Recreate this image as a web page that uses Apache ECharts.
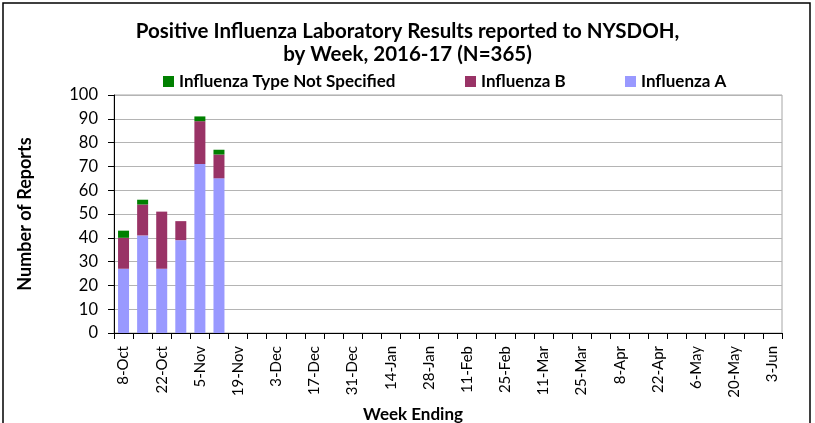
<!DOCTYPE html>
<html><head><meta charset="utf-8">
<script src="https://cdn.jsdelivr.net/npm/echarts@6/dist/echarts.min.js"></script>
<style>html,body{margin:0;padding:0;background:#fff;}#c{width:815px;height:423px;}</style>
</head><body><div id="c"></div>
<script>
const weeks = ['8-Oct','15-Oct','22-Oct','29-Oct','5-Nov','12-Nov','19-Nov','26-Nov','3-Dec','10-Dec','17-Dec','24-Dec','31-Dec','7-Jan','14-Jan','21-Jan','28-Jan','4-Feb','11-Feb','18-Feb','25-Feb','4-Mar','11-Mar','18-Mar','25-Mar','1-Apr','8-Apr','15-Apr','22-Apr','29-Apr','6-May','13-May','20-May','27-May','3-Jun'];
const fluA = [27,41,27,39,71,65];
const fluB = [13,13,24,8,18,10];
const fluNS = [3,2,0,0,2,2];
const seriesNames = ['Influenza Type Not Specified','Influenza B','Influenza A'];
const titleText = 'Positive Influenza Laboratory Results reported to NYSDOH,\nby Week, 2016-17 (N=365)';

const chart = echarts.init(document.getElementById('c'));
const font = 'Lato, "Open Sans", sans-serif';
const legendText = {fontFamily:font,fontWeight:'bold',fontSize:17,color:'#000'};
function lg(name,left){return {top:68,left:left,itemWidth:11,itemHeight:11,itemGap:0,icon:'rect',data:[name],textStyle:legendText,selectedMode:false};}
chart.setOption({
  animation:false,
  graphic:[{type:'rect',shape:{x:3,y:3,width:807,height:440},style:{fill:'none',stroke:'#000',lineWidth:1.5},silent:true}],
  title:{text:titleText,left:'center',top:15,textStyle:{fontFamily:font,fontWeight:'bold',fontSize:20.5,lineHeight:23,color:'#000'}},
  legend:[lg(seriesNames[0],158),lg(seriesNames[1],460),lg(seriesNames[2],620)],
  grid:{left:114,right:33,top:95,bottom:90,containLabel:false,outerBoundsMode:'none',show:true,borderColor:'#a6a6a6',borderWidth:1},
  xAxis:{type:'category',data:weeks,boundaryGap:true,
    name:'Week Ending',nameLocation:'middle',nameGap:69,
    nameTextStyle:{fontFamily:font,fontWeight:'bold',fontSize:17,color:'#000',padding:[0,70,0,0]},
    axisLine:{lineStyle:{color:'#000'}},
    axisTick:{show:true,interval:0,alignWithLabel:false,length:6,lineStyle:{color:'#000'}},
    axisLabel:{interval:1,rotate:90,fontFamily:font,fontSize:15,color:'#000',margin:13}},
  yAxis:{type:'value',min:0,max:100,interval:10,
    name:'Number of Reports',nameLocation:'middle',nameGap:80,
    nameTextStyle:{fontFamily:font,fontWeight:'bold',fontSize:18,color:'#000'},
    axisLine:{show:true,lineStyle:{color:'#000'}},
    axisTick:{show:true,length:6,lineStyle:{color:'#000'}},
    axisLabel:{fontFamily:font,fontSize:16.5,color:'#000',margin:16},
    splitLine:{lineStyle:{color:'#b4b4b4'}}},
  series:[
    {name:'Influenza A',type:'bar',stack:'s',data:fluA,itemStyle:{color:'#9999FF'},barWidth:11},
    {name:'Influenza B',type:'bar',stack:'s',data:fluB,itemStyle:{color:'#993366'},barWidth:11},
    {name:'Influenza Type Not Specified',type:'bar',stack:'s',data:fluNS,itemStyle:{color:'#008000'},barWidth:11}
  ]
});
</script></body></html>
